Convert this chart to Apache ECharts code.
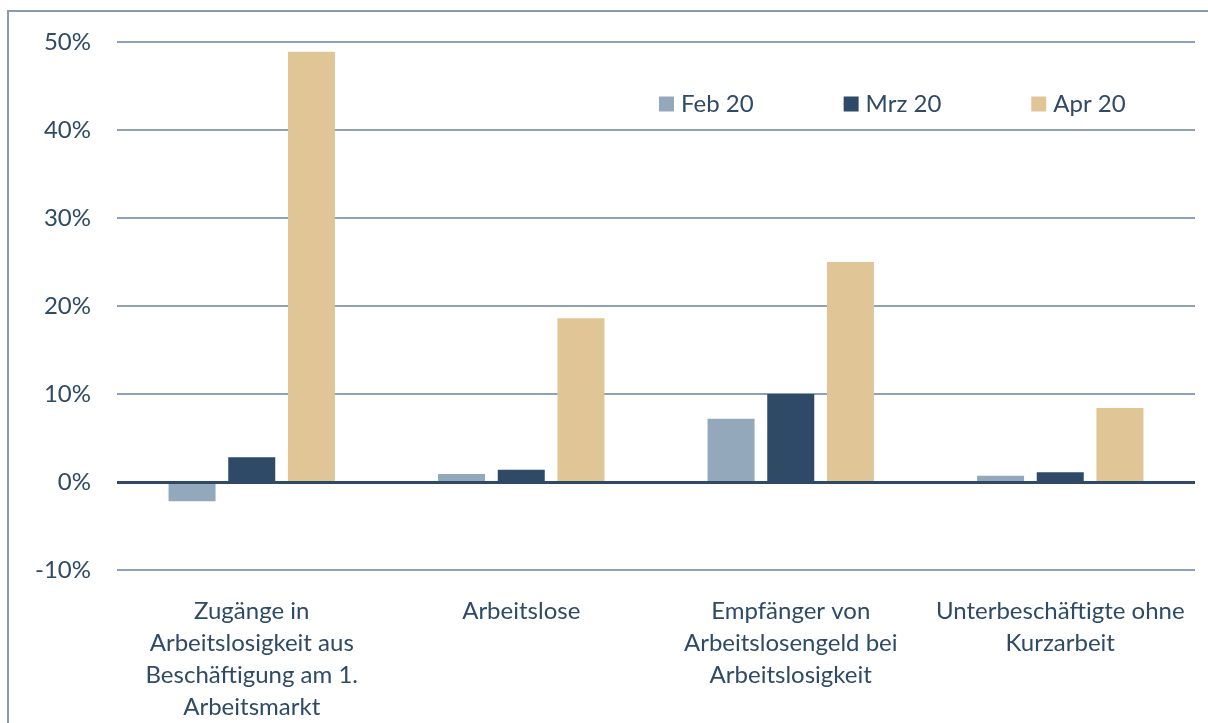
<!DOCTYPE html>
<html><head><meta charset="utf-8">
<script src="https://cdn.jsdelivr.net/npm/echarts@6/dist/echarts.min.js"></script>
<style>html,body{margin:0;padding:0;background:#fff}#c{width:1208px;height:723px}</style>
</head><body><div id="c"></div>
<script>
const categories = ["Zugänge in\nArbeitslosigkeit aus\nBeschäftigung am 1.\nArbeitsmarkt", "Arbeitslose", "Empfänger von\nArbeitslosengeld bei\nArbeitslosigkeit", "Unterbeschäftigte ohne\nKurzarbeit"];
const seriesNames = ["Feb 20", "Mrz 20", "Apr 20"];
const feb = [-2.2, 0.9, 7.2, 0.7];
const mrz = [2.8, 1.4, 10.0, 1.1];
const apr = [48.9, 18.6, 25.0, 8.4];
const colors = ["#94A8BC", "#2E4A66", "#E0C596"];
const txt = "#2E4A66";
const font = "Lato";
const fs = 24;
const chart = echarts.init(document.getElementById('c'));
const mk = (name, data, i) => ({
  name, type: 'bar', data, itemStyle: {color: colors[i]}, barWidth: 47, barGap: '27%',
  markLine: i === 2 ? {silent: true, symbol: 'none', label: {show: false},
    lineStyle: {color: txt, width: 3, type: 'solid'}, data: [{yAxis: 0}]} : undefined
});
chart.setOption({
  animation: false,
  textStyle: {fontFamily: font},
  graphic: [{type: 'rect', shape: {x: 8, y: 11, width: 1400, height: 900}, style: {fill: 'none', stroke: '#8A9BAE', lineWidth: 2}, z: -1}],
  legend: {left: 654, top: 87, itemWidth: 15, itemHeight: 15, itemGap: 90, icon: 'rect',
    textStyle: {color: txt, fontSize: fs, fontFamily: font, padding: [0, 0, 0, 2]}, data: seriesNames},
  grid: {left: 117, right: 13, top: 42, bottom: 153},
  xAxis: {type: 'category', data: categories, axisLine: {show: false, onZero: false}, axisTick: {show: false},
    axisLabel: {color: txt, fontSize: fs, fontFamily: font, lineHeight: 32, margin: 25, interval: 0}},
  yAxis: {type: 'value', min: -10, max: 50, interval: 10,
    axisLabel: {formatter: '{value}%', color: txt, fontSize: fs, fontFamily: font, margin: 26},
    splitLine: {lineStyle: {color: '#8FA0B3', width: 2}}, axisLine: {show: false}, axisTick: {show: false}},
  series: [mk(seriesNames[0], feb, 0), mk(seriesNames[1], mrz, 1), mk(seriesNames[2], apr, 2)]
});
</script></body></html>
